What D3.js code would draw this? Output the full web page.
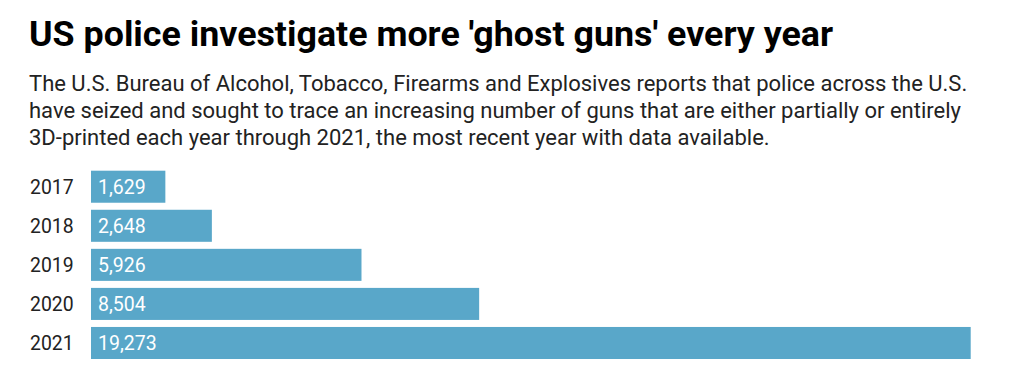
<!DOCTYPE html>
<html>
<head>
<meta charset="utf-8">
<script src="https://cdn.jsdelivr.net/npm/d3@7"></script>
<style>
  body { margin: 0; background: #fff; }
  svg { display: block; font-family: Roboto, "Noto Sans", sans-serif; }
</style>
</head>
<body>
<svg id="chart" width="1024" height="382"></svg>
<script>
// data
const years = ['2017', '2018', '2019', '2020', '2021'];
const guns = [1629, 2648, 5926, 8504, 19273];
const title = "US police investigate more 'ghost guns' every year";
const subtitleLines = [
    'The U.S. Bureau of Alcohol, Tobacco, Firearms and Explosives reports that police across the U.S.',
    'have seized and sought to trace an increasing number of guns that are either partially or entirely',
    '3D-printed each year through 2021, the most recent year with data available.'
];

const svg = d3.select('#chart');

svg.append('text')
    .attr('x', 29)
    .attr('y', 46)
    .attr('font-size', 35.8)
    .attr('font-weight', 700)
    .attr('fill', '#000')
    .text(title);

svg.append('g')
    .selectAll('text')
    .data(subtitleLines)
    .enter().append('text')
    .attr('x', 29)
    .attr('y', (d, i) => 91 + i * 27)
    .attr('font-size', 22)
    .attr('fill', '#222')
    .text(d => d);

// scales
const x = d3.scaleLinear()
    .domain([0, d3.max(guns)])
    .range([91, 970.7]);

const y = d3.scaleBand()
    .domain(years)
    .range([170.7, 359])
    .paddingInner(0.18)
    .paddingOuter(0);

const rows = years.map((yr, i) => ({ year: yr, value: guns[i] }));

const bar = svg.append('g')
    .selectAll('g')
    .data(rows)
    .enter().append('g');

bar.append('rect')
    .attr('x', x(0))
    .attr('y', d => y(d.year))
    .attr('width', d => x(d.value) - x(0))
    .attr('height', y.bandwidth())
    .attr('fill', '#59a7c9');

bar.append('text')
    .attr('x', x(0) + 7)
    .attr('y', d => y(d.year) + y.bandwidth() / 2)
    .attr('dy', '0.35em')
    .attr('font-size', 19.5)
    .attr('fill', '#fff')
    .text(d => d3.format(',')(d.value));

// year axis labels
svg.append('g')
    .selectAll('text')
    .data(years)
    .enter().append('text')
    .attr('x', 30)
    .attr('y', d => y(d) + y.bandwidth() / 2)
    .attr('dy', '0.35em')
    .attr('font-size', 19.4)
    .attr('fill', '#222')
    .text(d => d);
</script>
</body>
</html>
